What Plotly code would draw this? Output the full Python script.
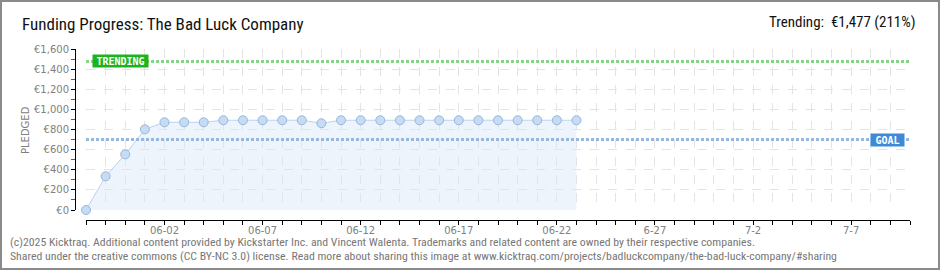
import plotly.graph_objects as go
import pandas as pd

# ---- data ----
dates = pd.date_range("2025-05-29", "2025-06-23", freq="D").strftime("%Y-%m-%d").tolist()
pledged = [0, 335, 553, 802, 872, 872, 872, 892, 892, 892, 892, 892, 862,
           892, 892, 892, 892, 892, 892, 892, 892, 892, 892, 892, 892, 892]
goal = 700
trending = 1477
x_start = "2025-05-29"
x_end = "2025-07-10"
label_dates = ["2025-06-02", "2025-06-07", "2025-06-12", "2025-06-17", "2025-06-22",
               "2025-06-27", "2025-07-02", "2025-07-07"]
label_text = ["06-02", "06-07", "06-12", "06-17", "06-22", "6-27", "7-2", "7-7"]
y_ticks = [0, 200, 400, 600, 800, 1000, 1200, 1400, 1600]
y_ticktext = ["€0", "€200", "€400", "€600", "€800", "€1,000", "€1,200", "€1,400", "€1,600"]

# ---- figure geometry ----
W, H = 940, 270
ML, MR, MT, MB = 75, 30, 49, 50
PW, PH = W - ML - MR, H - MT - MB

all_days = pd.date_range(x_start, x_end, freq="D").strftime("%Y-%m-%d").tolist()
lab_map = dict(zip(label_dates, label_text))
tick_text = [lab_map.get(d, "") for d in all_days]

fig = go.Figure()

fig.add_trace(go.Scatter(
    x=dates, y=pledged, mode="lines+markers",
    line=dict(color="#b9d3f0", width=1),
    fill="tozeroy", fillcolor="rgba(214,230,248,0.45)",
    marker=dict(size=9, color="#c6dcf5", line=dict(color="#98b6da", width=1)),
    hoverinfo="skip", showlegend=False, cliponaxis=False,
))

# trending and goal lines
fig.add_trace(go.Scatter(
    x=[x_start, x_end], y=[trending, trending], mode="lines",
    line=dict(color="#86d486", width=3, dash="3px,2px"),
    hoverinfo="skip", showlegend=False,
))
fig.add_trace(go.Scatter(
    x=[x_start, x_end], y=[goal, goal], mode="lines",
    line=dict(color="#96b8de", width=3, dash="3px,2px"),
    hoverinfo="skip", showlegend=False,
))

tick_font = dict(family="DejaVu Sans, sans-serif", size=10, color="#808080")

fig.update_layout(
    width=W, height=H,
    margin=dict(l=ML, r=MR, t=MT, b=MB, pad=0),
    paper_bgcolor="white", plot_bgcolor="white",
    xaxis=dict(
        domain=[(86 - ML) / PW, 1], anchor="free", position=0,
        range=[x_start, x_end], type="date",
        tickmode="array", tickvals=all_days, ticktext=tick_text,
        ticks="outside", ticklen=4, tickcolor="black", tickwidth=1,
        ticklabelstandoff=-3,
        showline=True, linecolor="black", linewidth=1,
        showgrid=True, gridcolor="#e4e4e4", griddash="dash", gridwidth=1,
        tickfont=tick_font, zeroline=False,
    ),
    yaxis=dict(
        domain=[10 / PH, 1], anchor="free", position=0,
        range=[0, 1600],
        tickmode="array", tickvals=y_ticks, ticktext=y_ticktext,
        ticks="outside", ticklen=4, tickcolor="black", tickwidth=1,
        showline=True, linecolor="black", linewidth=1,
        showgrid=True, gridcolor="#e4e4e4", griddash="dash", gridwidth=1,
        tickfont=tick_font, zeroline=False,
        minor=dict(dtick=100, tick0=0, ticks="outside", ticklen=4,
                   tickcolor="#e02020", showgrid=False),
    ),
)

title_font = "Liberation Sans Narrow, Roboto Condensed, DejaVu Sans Condensed, sans-serif"
annotations = [
    dict(text="Funding Progress: The Bad Luck Company", xref="paper", yref="paper",
         x=(20 - ML) / PW, y=(H - MB - 24) / PH, xanchor="left", yanchor="middle",
         showarrow=False, font=dict(family=title_font, size=17, color="#111111")),
    dict(text="Trending:  €1,477 (211%)", xref="paper", yref="paper",
         x=(918 - ML) / PW, y=(H - MB - 22) / PH, xanchor="right", yanchor="middle",
         showarrow=False, font=dict(family=title_font, size=15, color="#111111")),
    dict(text="PLEDGED", xref="paper", yref="paper",
         x=(25 - ML) / PW, y=(H - MB - 130) / PH, textangle=-90,
         xanchor="center", yanchor="middle", showarrow=False,
         font=dict(family="DejaVu Sans, sans-serif", size=10, color="#808080")),
    dict(text="<b>TRENDING</b>", xref="paper", yref="y",
         x=(120.5 - ML) / PW, y=trending, xanchor="center", yanchor="middle",
         showarrow=False, bgcolor="#1db31d", borderpad=1, width=53, height=10,
         font=dict(family="DejaVu Sans Mono, monospace", size=10, color="white")),
    dict(text="<b>GOAL</b>", xref="paper", yref="y",
         x=(887.5 - ML) / PW, y=goal, xanchor="center", yanchor="middle",
         showarrow=False, bgcolor="#3f8ad8", borderpad=1, width=31, height=10,
         font=dict(family="DejaVu Sans Mono, monospace", size=10, color="white")),
    dict(text="(c)2025 Kicktraq. Additional content provided by Kickstarter Inc. and Vincent Walenta. "
              "Trademarks and related content are owned by their respective companies.",
         xref="paper", yref="paper", x=(8 - ML) / PW, y=(H - MB - 242) / PH,
         xanchor="left", yanchor="middle", showarrow=False,
         font=dict(family="Liberation Sans Narrow, Roboto Condensed, sans-serif", size=11.8, color="#777777")),
    dict(text="Shared under the creative commons (CC BY-NC 3.0) license. Read more about sharing this image at "
              "www.kicktraq.com/projects/badluckcompany/the-bad-luck-company/#sharing",
         xref="paper", yref="paper", x=(8 - ML) / PW, y=(H - MB - 256) / PH,
         xanchor="left", yanchor="middle", showarrow=False,
         font=dict(family="Liberation Sans Narrow, Roboto Condensed, sans-serif", size=11.8, color="#777777")),
]
fig.update_layout(annotations=annotations)

# outer border
fig.add_shape(type="rect", xref="paper", yref="paper",
              x0=(1 - ML) / PW, x1=(W - 1 - ML) / PW,
              y0=(1 - MB) / PH, y1=(H - 1 - MB) / PH,
              line=dict(color="#8a8a8a", width=2), fillcolor="rgba(0,0,0,0)", layer="above")

fig.write_html("out.html")
